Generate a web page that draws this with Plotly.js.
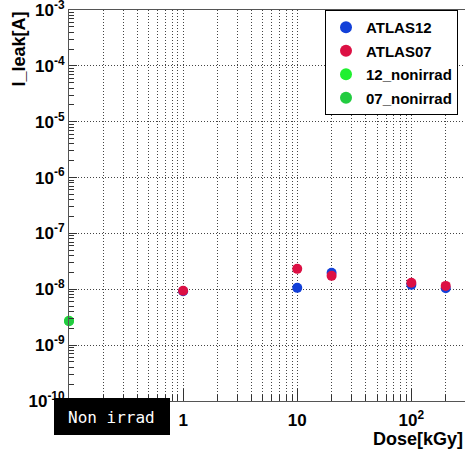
<!DOCTYPE html>
<html>
<head>
<meta charset="utf-8">
<script src="https://cdn.plot.ly/plotly-3.0.1.min.js"></script>
<style>html,body{margin:0;padding:0;background:#fff;}#chart{width:465px;height:454px;}</style>
</head>
<body>
<div id="chart"></div>
<script>
const dose = [1, 10, 20, 100, 200];
const atlas12 = [9.2e-9, 1.06e-8, 1.97e-8, 1.2e-8, 1.04e-8];
const atlas07 = [9.4e-9, 2.32e-8, 1.74e-8, 1.31e-8, 1.15e-8];
const nonirradDose = [0.1];
const nonirrad12 = [2.72e-9];
const nonirrad07 = [2.68e-9];
const xTickVals = [1, 10, 100];
const xTickText = ['1', '10', '10<sup>2</sup>'];
const yTickVals = [1e-10, 1e-9, 1e-8, 1e-7, 1e-6, 1e-5, 1e-4, 1e-3];
const yTickText = ['10<sup>-10</sup>', '10<sup>-9</sup>', '10<sup>-8</sup>', '10<sup>-7</sup>', '10<sup>-6</sup>', '10<sup>-5</sup>', '10<sup>-4</sup>', '10<sup>-3</sup>'];

const FONT = 'Liberation Sans, Arial, sans-serif';
function tr(name, x, y, color, group) {
  return {type: 'scatter', mode: 'markers', name: name, x: x, y: y,
    legendgroup: group, cliponaxis: false,
    marker: {color: color, size: 10, symbol: 'circle'}};
}
const data = [
  tr('ATLAS12', dose, atlas12, '#1240d8', 'a'),
  tr('ATLAS07', dose, atlas07, '#dc1044', 'b'),
  tr('12_nonirrad', nonirradDose, nonirrad12, '#20f030', 'c'),
  tr('07_nonirrad', nonirradDose, nonirrad07, '#22cc40', 'd')
];
const gridc = '#444';
const W = 396, H = 391, L = 69, T = 10;
const px = v => (v - L) / W;
const py = v => (T + H - v) / H;
const layout = {
  width: 465, height: 454,
  margin: {l: L, r: 0, t: T, b: 53},
  paper_bgcolor: '#fff', plot_bgcolor: '#fff',
  showlegend: true,
  legend: {x: px(325), y: 1, xanchor: 'left', yanchor: 'top',
    bgcolor: '#fff', bordercolor: '#000', borderwidth: 1,
    traceorder: 'grouped', tracegroupgap: 1, itemsizing: 'constant',
    font: {family: FONT, size: 15, color: '#000', weight: 'bold'},
    itemwidth: 30},
  xaxis: {type: 'log', range: [-1, 2.47],
    tickmode: 'array', tickvals: xTickVals, ticktext: xTickText,
    ticks: 'inside', ticklen: 12, tickcolor: '#333', ticklabelstandoff: 4,
    ticklabeloverflow: 'allow',
    showline: true, linecolor: '#555', mirror: true, linewidth: 1,
    showgrid: true, gridcolor: gridc, griddash: '1px,2px', gridwidth: 1,
    zeroline: false,
    tickfont: {family: FONT, size: 17, color: '#000', weight: 'bold'},
    minor: {dtick: 'D1', ticks: 'inside', ticklen: 6, tickcolor: '#333',
      showgrid: true, gridcolor: gridc, griddash: '1px,2px', gridwidth: 1}},
  yaxis: {type: 'log', range: [-10.0005, -2.9995],
    tickmode: 'array', tickvals: yTickVals, ticktext: yTickText,
    ticks: 'inside', ticklen: 8, tickcolor: '#333',
    ticklabeloverflow: 'allow',
    showline: true, linecolor: '#555', mirror: true, linewidth: 1,
    showgrid: true, gridcolor: gridc, griddash: '1px,2px', gridwidth: 1,
    zeroline: false,
    tickfont: {family: FONT, size: 17, color: '#000', weight: 'bold'},
    minor: {dtick: 'D1', ticks: 'inside', ticklen: 5, tickcolor: '#333', showgrid: false}},
  shapes: [
    {type: 'rect', xref: 'paper', yref: 'paper', layer: 'above',
     x0: px(54), x1: px(170), y0: py(435), y1: py(398),
     fillcolor: '#000', line: {width: 0}}
  ],
  annotations: [
    {xref: 'paper', yref: 'paper', x: px(111), y: py(417),
     xanchor: 'center', yanchor: 'middle', showarrow: false,
     text: 'Non irrad',
     font: {family: 'DejaVu Sans Mono, monospace', size: 16, color: '#fff'}},
    {xref: 'paper', yref: 'paper', x: 1, y: py(439),
     xanchor: 'right', yanchor: 'middle', showarrow: false,
     text: 'Dose[kGy]', font: {family: FONT, size: 18, color: '#000', weight: 'bold'}},
    {xref: 'paper', yref: 'paper', x: px(18), y: 1,
     xanchor: 'center', yanchor: 'top', showarrow: false, textangle: -90,
     text: 'I_leak[A]', font: {family: FONT, size: 18, color: '#000', weight: 'bold'}}
  ]
};
Plotly.newPlot('chart', data, layout, {displayModeBar: false, staticPlot: true});
</script>
</body>
</html>
